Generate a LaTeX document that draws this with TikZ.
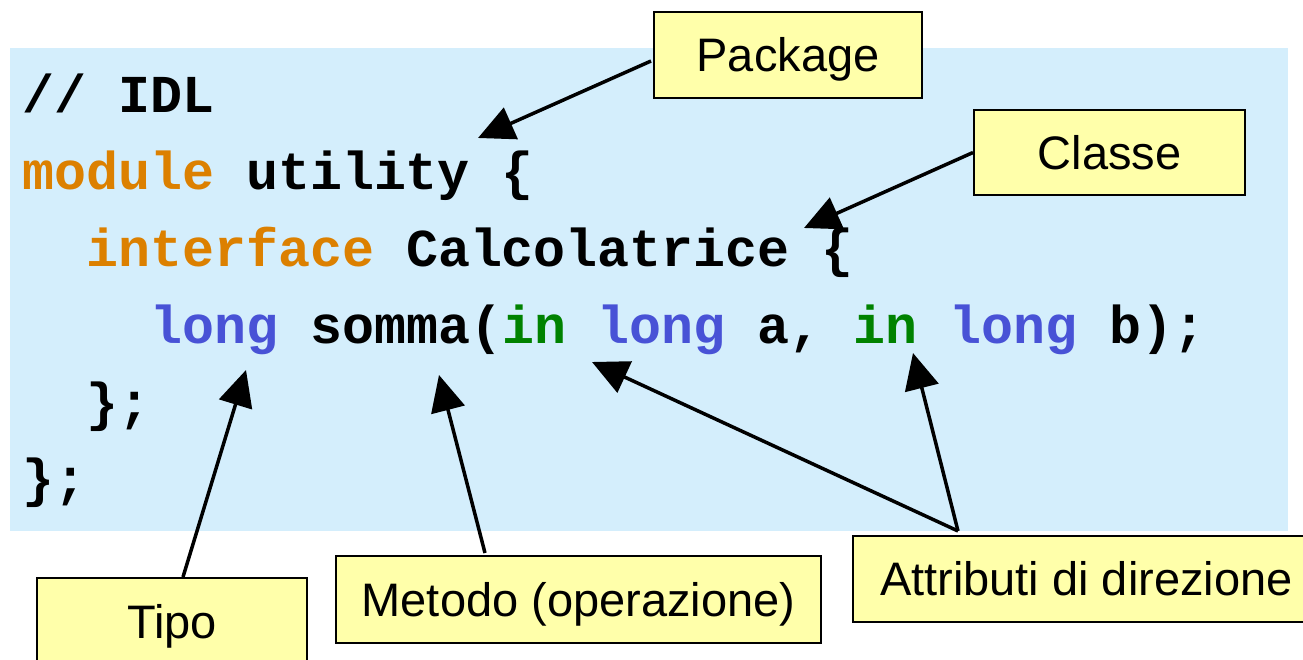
\documentclass[tikz,border=0pt]{standalone}
\usepackage{fontspec}
\setmainfont{Liberation Sans}
\newfontfamily\codefont{Liberation Mono}
\usetikzlibrary{arrows.meta}
\definecolor{bgblue}{RGB}{212,238,252}
\definecolor{boxyellow}{RGB}{255,255,170}
\definecolor{kworange}{RGB}{220,128,0}
\definecolor{kwgreen}{RGB}{0,130,0}
\definecolor{kwblue}{RGB}{72,82,214}
\tikzset{
  codeline/.style={anchor=base west, inner sep=0pt, font=\codefont\bfseries\fontsize{53.3}{60}\selectfont},
  labelbox/.style={draw=black, line width=2pt, fill=boxyellow, inner sep=0pt,
    font=\fontsize{47}{56}\selectfont, text height=33.8pt, text depth=0pt},
  pointer/.style={line width=3.5pt, -{Triangle[length=36pt,width=34pt]}}
}
\begin{document}
\begin{tikzpicture}[x=1pt,y=-1pt]
\useasboundingbox (0,0) rectangle (1303,660);
\clip (0,0) rectangle (1303,660);
% code background
\fill[bgblue] (10,48) rectangle (1288,531);
% code lines
\node[codeline] (l1) at (22,113) {// IDL};
\node[codeline] (l2) at (22,190) {\textcolor{kworange}{module} utility \{};
\node[codeline] (l3) at (86,266) {\textcolor{kworange}{interface} Calcolatrice \{};
\node[codeline] (l4) at (150,343) {\textcolor{kwblue}{long} somma(\textcolor{kwgreen}{in} \textcolor{kwblue}{long} a, \textcolor{kwgreen}{in} \textcolor{kwblue}{long} b);};
\node[codeline] (l5) at (86,420) {\};};
\node[codeline] (l6) at (22,496) {\};};
% label boxes
\node[labelbox, minimum width=268pt, minimum height=86pt] (pkg) at (788,55) {Package};
\node[labelbox, minimum width=271pt, minimum height=85pt] (cls) at (1109.5,152.5) {Classe};
\node[labelbox, minimum width=270pt, minimum height=100pt, anchor=north, text depth=12pt] (tipo) at (172,577) {Tipo};
\node[labelbox, minimum width=485pt, minimum height=87pt] (met) at (578.5,599.5) {Metodo (operazione)};
\node[labelbox, minimum height=86pt, anchor=west, inner xsep=27pt] (attr) at (852,579) {Attributi di direzione};
% arrow targets
\coordinate (tPkg) at (478,138);
\coordinate (tCls) at (804,228);
\coordinate (tTipo) at (246,370);
\coordinate (tMet) at (439,375);
\coordinate (tIn1) at (592,362);
\coordinate (tIn2) at (913,353);
% arrow starts
\coordinate (sPkg) at (651,61);
\coordinate (sTipo) at (183,577);
\coordinate (sMet) at (485,553);
\coordinate (sAttr) at (958,531);
% connectors
\draw[pointer] (sPkg) -- (tPkg);
\draw[pointer] (cls.west) -- (tCls);
\draw[pointer] (sTipo) -- (tTipo);
\draw[pointer] (sMet) -- (tMet);
\draw[pointer] (sAttr) -- (tIn1);
\draw[pointer] (sAttr) -- (tIn2);
\end{tikzpicture}
\end{document}
